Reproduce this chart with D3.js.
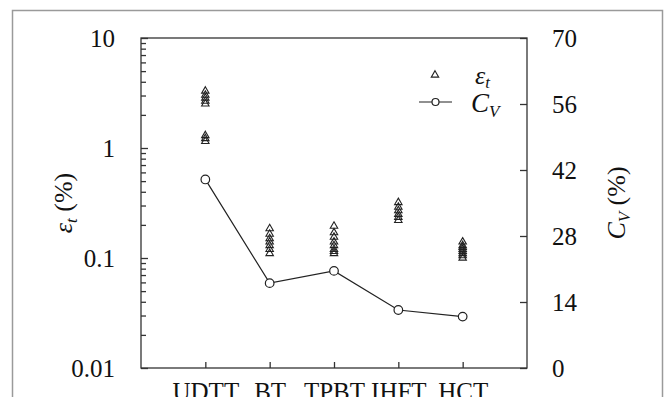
<!DOCTYPE html>
<html>
<head>
<meta charset="utf-8">
<script src="https://cdn.jsdelivr.net/npm/d3@7"></script>
<style>
  body { margin: 0; background: #fff; }
</style>
</head>
<body>
<div id="chart"></div>
<script>
const categories = ["UDTT", "BT", "TPBT", "IHFT", "HCT"];

// eps_t (%) for each test, several specimens per method
const epsUDTT = [3.3, 3.03, 2.85, 2.67, 2.52, 1.3, 1.22, 1.15];
const epsBT = [0.185, 0.165, 0.15, 0.14, 0.13, 0.12, 0.11];
const epsTPBT = [0.195, 0.17, 0.155, 0.14, 0.13, 0.12, 0.115, 0.11];
const epsIHFT = [0.32, 0.29, 0.27, 0.25, 0.235, 0.22];
const epsHCT = [0.14, 0.13, 0.125, 0.12, 0.115, 0.11, 0.105, 0.1];

// C_V (%) per method
const cvValues = [40.0, 18.0, 20.6, 12.3, 10.9];

const leftTicks = [0.01, 0.1, 1, 10];
const rightTicks = [0, 14, 28, 42, 56, 70];

const epsSets = [epsUDTT, epsBT, epsTPBT, epsIHFT, epsHCT];
const epsPoints = epsSets.flatMap((vals, i) => vals.map((v) => ({ cat: categories[i], v })));
const cvPoints = categories.map((c, i) => ({ cat: c, v: cvValues[i] }));

const FONT = "Liberation Serif";

const W = 664, H = 397;
const margin = { top: 38, right: 137, bottom: 29, left: 141 };
const width = W - margin.left - margin.right;
const height = H - margin.top - margin.bottom;

const svg = d3.select("#chart").append("svg")
  .attr("width", W)
  .attr("height", H)
  .attr("font-family", FONT);

// outer frame
svg.append("rect")
  .attr("x", 12.5).attr("y", 10.5)
  .attr("width", 650).attr("height", 420)
  .attr("fill", "none")
  .attr("stroke", "#9a9a9a")
  .attr("stroke-width", 1.5);

const g = svg.append("g")
  .attr("transform", `translate(${margin.left},${margin.top})`);

const x = d3.scalePoint().domain(categories).range([0, width]).padding(1);
const yL = d3.scaleLog().domain([0.01, 10]).range([height, 0]);
const yR = d3.scaleLinear().domain([0, 70]).range([height, 0]);

const axisColor = "#333";

// plot box
g.append("rect")
  .attr("width", width).attr("height", height)
  .attr("fill", "none")
  .attr("stroke", axisColor)
  .attr("stroke-width", 1.3);

function styleAxis(sel) {
  sel.attr("font-family", FONT).attr("font-size", 25);
  sel.select(".domain").remove();
  sel.selectAll("line").attr("stroke", axisColor).attr("stroke-width", 1.3);
  sel.selectAll("text")
    .attr("fill", "#111")
    .attr("font-family", FONT)
    .style("font-family", FONT);
}

// left log axis: major ticks
g.append("g")
  .call(d3.axisLeft(yL).tickValues(leftTicks).tickFormat(d3.format("~g"))
    .tickSizeInner(-7).tickSizeOuter(0).tickPadding(26))
  .call(styleAxis);

// left log axis: minor ticks
const minor = yL.ticks().filter((d) => !leftTicks.some((t) => Math.abs(t - d) < 1e-9));
g.append("g")
  .call(d3.axisLeft(yL).tickValues(minor).tickFormat("")
    .tickSizeInner(-5).tickSizeOuter(0))
  .call(styleAxis);

// right linear axis
g.append("g")
  .attr("transform", `translate(${width},0)`)
  .call(d3.axisRight(yR).tickValues(rightTicks)
    .tickSizeInner(-7).tickSizeOuter(0).tickPadding(25))
  .call(styleAxis);

// bottom axis
g.append("g")
  .attr("transform", `translate(0,${height})`)
  .call(d3.axisBottom(x).tickSizeInner(-6).tickSizeOuter(0).tickPadding(14))
  .call(styleAxis);

// C_V line + circles
const line = d3.line().x((d) => x(d.cat)).y((d) => yR(d.v));
g.append("path")
  .datum(cvPoints)
  .attr("d", line)
  .attr("fill", "none")
  .attr("stroke", "#222")
  .attr("stroke-width", 1.2);

g.selectAll(".cv")
  .data(cvPoints)
  .join("circle")
  .attr("class", "cv")
  .attr("cx", (d) => x(d.cat))
  .attr("cy", (d) => yR(d.v))
  .attr("r", 4.3)
  .attr("fill", "#fff")
  .attr("stroke", "#222")
  .attr("stroke-width", 1.2);

// eps_t triangles
const tri = d3.symbol(d3.symbolTriangle, 24);
g.selectAll(".eps")
  .data(epsPoints)
  .join("path")
  .attr("class", "eps")
  .attr("d", tri)
  .attr("transform", (d) => `translate(${x(d.cat)},${yL(d.v)})`)
  .attr("fill", "none")
  .attr("stroke", "#222")
  .attr("stroke-width", 1.1);

// legend
const leg = svg.append("g");
leg.append("path")
  .attr("d", tri)
  .attr("transform", "translate(435,75)")
  .attr("fill", "none")
  .attr("stroke", "#222")
  .attr("stroke-width", 1.1);
const t1 = leg.append("text")
  .attr("x", 475).attr("y", 84)
  .attr("font-size", 26)
  .attr("font-style", "italic")
  .attr("fill", "#111")
  .style("font-family", FONT);
t1.append("tspan").text("ε");
t1.append("tspan").attr("dy", 4).attr("font-size", 17).text("t");

leg.append("line")
  .attr("x1", 419).attr("x2", 452)
  .attr("y1", 102).attr("y2", 102)
  .attr("stroke", "#222").attr("stroke-width", 1.2);
leg.append("circle")
  .attr("cx", 435.5).attr("cy", 102).attr("r", 3.5)
  .attr("fill", "#fff").attr("stroke", "#222").attr("stroke-width", 1.2);
const t2 = leg.append("text")
  .attr("x", 471).attr("y", 112)
  .attr("font-size", 27)
  .attr("font-style", "italic")
  .attr("fill", "#111")
  .style("font-family", FONT);
t2.append("tspan").text("C");
t2.append("tspan").attr("dy", 5).attr("font-size", 17).text("V");

// axis titles
const lt = svg.append("text")
  .attr("transform", `translate(72,${margin.top + height / 2}) rotate(-90)`)
  .attr("text-anchor", "middle")
  .attr("font-size", 26)
  .attr("fill", "#111")
  .style("font-family", FONT);
lt.append("tspan").attr("font-style", "italic").text("ε");
lt.append("tspan").attr("font-style", "italic").attr("dy", 5).attr("font-size", 17).text("t");
lt.append("tspan").attr("dy", -5).text(" (%)");

const rt = svg.append("text")
  .attr("transform", `translate(625,${margin.top + height / 2}) rotate(-90)`)
  .attr("text-anchor", "middle")
  .attr("font-size", 26)
  .attr("fill", "#111")
  .style("font-family", FONT);
rt.append("tspan").attr("font-style", "italic").text("C");
rt.append("tspan").attr("font-style", "italic").attr("dy", 5).attr("font-size", 17).text("V");
rt.append("tspan").attr("dy", -5).text(" (%)");
</script>
</body>
</html>
